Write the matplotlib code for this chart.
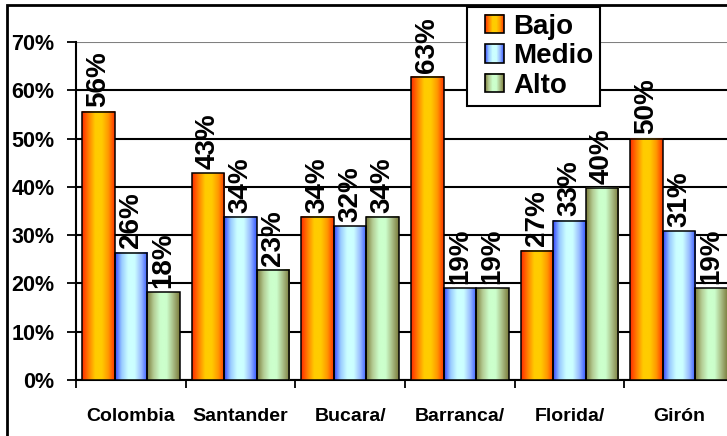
import matplotlib
matplotlib.use("Agg")
import matplotlib.pyplot as plt
import numpy as np
from matplotlib.colors import LinearSegmentedColormap
from matplotlib.patches import Rectangle
from matplotlib.image import BboxImage
from matplotlib.transforms import Bbox, TransformedBbox
from matplotlib.legend_handler import HandlerBase
import matplotlib.ticker as ticker

categories = ["Colombia", "Santander", "Bucara/", "Barranca/", "Florida/", "Girón"]
series_names = ["Bajo", "Medio", "Alto"]
bajo = [55.6, 42.8, 33.8, 62.8, 26.8, 50.0]
medio = [26.4, 33.8, 31.8, 19.0, 33.0, 30.8]
alto = [18.2, 22.8, 33.8, 19.0, 39.8, 19.0]
y_ticks = [0, 10, 20, 30, 40, 50, 60, 70]

plt.rcParams["font.family"] = ["Liberation Sans", "DejaVu Sans"]

# horizontal gradients, edge -> centre -> edge
cmaps = [
    LinearSegmentedColormap.from_list(
        "bajo", ["#ff2a00", "#ff8000", "#ffcc00", "#ffcc00", "#ff9900", "#ff3300"]),
    LinearSegmentedColormap.from_list(
        "medio", ["#3344ff", "#99ccff", "#ccffff", "#ccffff", "#99bbff", "#3355ff"]),
    LinearSegmentedColormap.from_list(
        "alto", ["#7a7a3a", "#b4cc94", "#ccffcc", "#ccffcc", "#a8bc84", "#7a7a3a"]),
]
grad = np.linspace(0, 1, 128).reshape(1, -1)


class GradientHandler(HandlerBase):
    """square gradient swatch, pushed to the right of the handle box"""

    def __init__(self, cmap):
        super().__init__()
        self.cmap = cmap

    def create_artists(self, legend, orig_handle, xdescent, ydescent,
                       width, height, fontsize, trans):
        size = height
        x0 = -xdescent + width - size
        box = TransformedBbox(Bbox.from_bounds(x0, -ydescent, size, size), trans)
        img = BboxImage(box, cmap=self.cmap, interpolation="bicubic")
        img.set_data(grad)
        rect = Rectangle((x0, -ydescent), size, size, facecolor="none",
                         edgecolor="black", lw=1.2, transform=trans)
        return [img, rect]


fig = plt.figure(figsize=(7.27, 4.36), dpi=100)
ax = fig.add_axes([76 / 727, 56 / 436, 658 / 727, 338 / 436])

x = np.arange(len(categories))
width = 0.297
offsets = [-width, 0, width]

for vals, off, cmap in zip([bajo, medio, alto], offsets, cmaps):
    bars = ax.bar(x + off, vals, width, facecolor="none", edgecolor="black",
                  lw=1.1, zorder=4)
    for b, v in zip(bars, vals):
        x0 = b.get_x()
        ax.imshow(grad, cmap=cmap, extent=[x0, x0 + width, 0, v],
                  aspect="auto", interpolation="bicubic", zorder=3)
        ax.annotate(f"{v:.0f}%", (x0 + width / 2, v), xytext=(0, 3),
                    textcoords="offset points", rotation=90, ha="center",
                    va="bottom", fontsize=20, fontweight="bold",
                    annotation_clip=False, zorder=6)

ax.set_xlim(-0.5, len(categories) - 0.5)
ax.set_ylim(0, 70)
ax.set_aspect("auto")

ax.set_yticks(y_ticks)
ax.yaxis.set_major_formatter(ticker.FuncFormatter(lambda v, p: f"{v:.0f}%"))
ax.tick_params(axis="y", length=6.5, width=1.3, pad=9, labelsize=15.5)
for lab in ax.get_yticklabels():
    lab.set_fontweight("bold")

ax.set_xticks(x)
ax.set_xticklabels(categories, fontsize=14, fontweight="bold")
ax.set_xticks(np.arange(-0.5, len(categories), 1), minor=True)
ax.tick_params(axis="x", which="major", length=0, pad=20)
ax.tick_params(axis="x", which="minor", length=5.5, width=1.3)

ax.yaxis.grid(True, color="black", lw=1.5, zorder=1)
ax.get_ygridlines()[-1].set_color("#808080")
ax.set_axisbelow(True)

for s in ["top", "right"]:
    ax.spines[s].set_visible(False)
ax.spines["left"].set_linewidth(1.5)
ax.spines["bottom"].set_linewidth(1.5)

handles = [Rectangle((0, 0), 1, 1) for _ in series_names]
leg = fig.legend(handles, series_names, loc="upper left",
                 bbox_to_anchor=(467 / 727, 1 - 7 / 436),
                 handler_map={h: GradientHandler(c) for h, c in zip(handles, cmaps)},
                 prop={"weight": "bold", "size": 20}, frameon=True,
                 fancybox=False, framealpha=1, edgecolor="black",
                 handlelength=1.08, handleheight=0.65, labelspacing=0.12,
                 borderpad=0.25, handletextpad=0.32, borderaxespad=0)
leg.get_frame().set_linewidth(1.5)
leg.set_zorder(10)

# outer chart border, running off the right and bottom edges
fig.patches.append(Rectangle((7 / 727, -0.1), 1.1, 1.1 - 5 / 436,
                             fill=False, edgecolor="black", lw=2,
                             transform=fig.transFigure))

fig.savefig("out.png", dpi=100)
